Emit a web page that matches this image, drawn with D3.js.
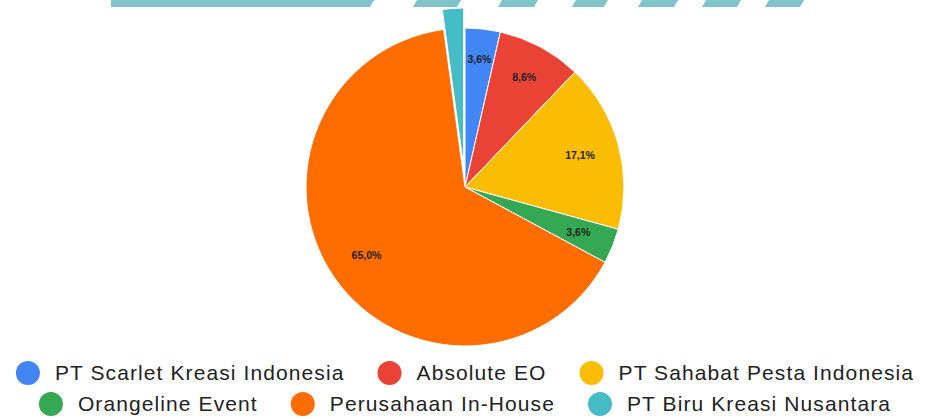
<!DOCTYPE html>
<html>
<head>
<meta charset="utf-8">
<script src="https://cdn.jsdelivr.net/npm/d3@7"></script>
<style>
  body { margin: 0; background: #fff; }
  svg { display: block; font-family: "Liberation Sans", Arial, sans-serif; }
</style>
</head>
<body>
<div id="chart"></div>
<script>
// data (percent shares, counts out of 140)
const categories = ["PT Scarlet Kreasi Indonesia", "Absolute EO", "PT Sahabat Pesta Indonesia",
                    "Orangeline Event", "Perusahaan In-House", "PT Biru Kreasi Nusantara"];
const counts = [5, 12, 24, 5, 91, 3];
const colors = ["#4285f4", "#ea4335", "#fbbc04", "#34a853", "#ff6d01", "#46bdc6"];
const explodedSlice = "PT Biru Kreasi Nusantara";
const legendRows = [[0, 1, 2], [3, 4, 5]];

// cut-off header strip at the very top (decoration)
const bannerSegments = [[111, 370], [413, 457], [498, 534], [572, 604], [638, 674], [702, 737], [765, 800]];

const width = 930, height = 419;
const cx = 465, cy = 187, radius = 159, explode = 20;

const svg = d3.select("#chart").append("svg")
    .attr("width", width)
    .attr("height", height);

// header strip
svg.append("g").selectAll("path")
    .data(bannerSegments)
    .enter().append("path")
    .attr("d", (d, i) => `M${d[0]},7 L${i ? d[0] + 4 : d[0]},0 L${d[1] + 4},0 L${d[1]},7 Z`)
    .attr("fill", "#80c3c9");

const total = d3.sum(counts);
const data = categories.map((c, i) => ({ name: c, value: counts[i], color: colors[i] }));

const pie = d3.pie().value(d => d.value).sort(null);
const arc = d3.arc().innerRadius(0).outerRadius(radius);

const g = svg.append("g").attr("transform", `translate(${cx},${cy})`);
const arcs = pie(data);

function shift(d) {
    if (d.data.name !== explodedSlice) return "";
    const a = (d.startAngle + d.endAngle) / 2;
    return `translate(${explode * Math.sin(a)},${-explode * Math.cos(a)})`;
}

g.selectAll("path.slice")
    .data(arcs)
    .enter().append("path")
    .attr("class", "slice")
    .attr("d", arc)
    .attr("transform", shift)
    .attr("fill", d => d.data.color)
    .attr("stroke", "#fff")
    .attr("stroke-width", 1);

const fmt = v => (v / total * 100).toFixed(1).replace(".", ",") + "%";

// labels pushed out until the outer corner of the text box sits ~24px inside the rim
const labels = g.selectAll("text.pct")
    .data(arcs.filter(d => d.value / total > 0.03))
    .enter().append("text")
    .attr("class", "pct")
    .attr("text-anchor", "middle")
    .attr("dy", "0.35em")
    .style("font-size", "10.5px")
    .style("font-weight", "bold")
    .style("fill", "#222")
    .text(d => fmt(d.value));

labels.attr("transform", function(d) {
    const a = (d.startAngle + d.endAngle) / 2;
    const hw = this.getComputedTextLength() / 2, hh = 5;
    const r = radius - 24 - hw * Math.abs(Math.sin(a)) - hh * Math.abs(Math.cos(a));
    return `translate(${r * Math.sin(a)},${-r * Math.cos(a)})`;
});

// legend, two centred rows
const rowY = [373, 404];
legendRows.forEach((row, r) => {
    const lg = svg.append("g").attr("transform", `translate(0,${rowY[r]})`);
    const items = lg.selectAll("g.item")
        .data(row.map(i => data[i]))
        .enter().append("g")
        .attr("class", "item");

    items.append("circle")
        .attr("r", 12)
        .attr("fill", d => d.color);

    items.append("text")
        .attr("x", 27)
        .attr("dy", "0.35em")
        .style("font-size", "21px")
        .style("letter-spacing", "1.1px")
        .style("fill", "#222")
        .text(d => d.name);

    let x = 0;
    const pos = [];
    items.each(function() {
        const w = d3.select(this).select("text").node().getComputedTextLength();
        pos.push(x);
        x += 27 + w + 45;
    });
    const rowW = x - 45 + 12;
    const start = cx - rowW / 2 + 12;
    items.attr("transform", (d, i) => `translate(${start + pos[i]},0)`);
});
</script>
</body>
</html>
